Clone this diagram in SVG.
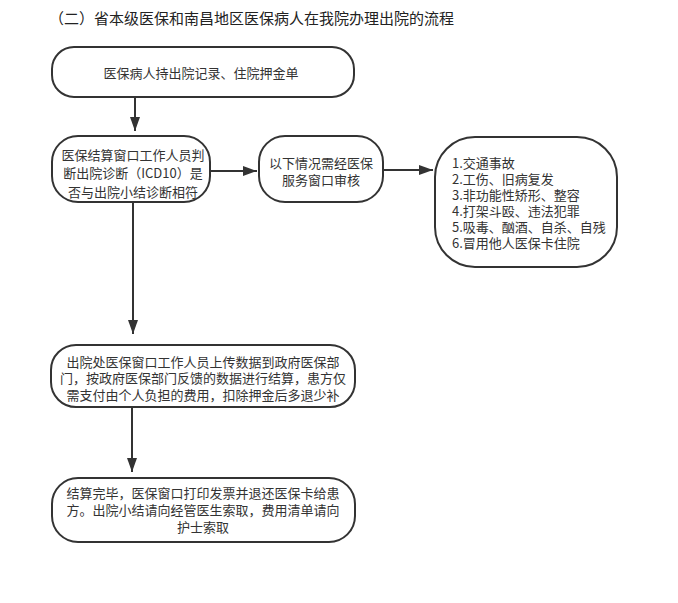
<svg xmlns="http://www.w3.org/2000/svg" width="678" height="603" viewBox="0 0 678 603">
<defs>
<style>
.box{fill:#fff;stroke:#333;stroke-width:2}
.t{font-family:"Noto Sans CJK SC","Noto Sans",sans-serif;font-size:13px;fill:#333}
.c{text-anchor:middle}
.ln{stroke:#333;stroke-width:2;fill:none}
</style>
<marker id="ah" markerWidth="14" markerHeight="10" viewBox="0 0 14 10" refX="14" refY="5" orient="auto" markerUnits="userSpaceOnUse">
<path d="M0,0 L14,5 L0,10 Z" fill="#333"/>
</marker>
</defs>
<rect width="678" height="603" fill="#fff"/>
<text x="49" y="24" font-family="'Noto Sans CJK SC','Noto Sans',sans-serif" font-size="15" fill="#222">（二）省本级医保和南昌地区医保病人在我院办理出院的流程</text>
<g id="connectors">
<line class="ln" x1="135" y1="97" x2="135" y2="131" marker-end="url(#ah)"/>
<line class="ln" x1="210" y1="171" x2="257" y2="171" marker-end="url(#ah)"/>
<line class="ln" x1="383" y1="170" x2="433" y2="170" marker-end="url(#ah)"/>
<line class="ln" x1="133" y1="202" x2="133" y2="334" marker-end="url(#ah)"/>
<line class="ln" x1="132" y1="407" x2="132" y2="472" marker-end="url(#ah)"/>
</g>
<g id="n1">
<rect class="box" x="52" y="47" width="302" height="50" rx="22" ry="22"/>
<text class="t c" x="201" y="77.5">医保病人持出院记录、住院押金单</text>
</g>
<g id="n2">
<rect class="box" x="52" y="136" width="158" height="66" rx="26" ry="26"/>
<text class="t c" x="133" y="159.5">医保结算窗口工作人员判</text>
<text class="t c" x="133" y="177.5">断出院诊断（ICD10）是</text>
<text class="t c" x="133" y="196.5">否与出院小结诊断相符</text>
</g>
<g id="n3">
<rect class="box" x="259" y="136" width="124" height="66" rx="26" ry="26"/>
<text class="t c" x="321" y="167.5">以下情况需经医保</text>
<text class="t c" x="321" y="184.5">服务窗口审核</text>
</g>
<g id="n4">
<rect class="box" x="435" y="137" width="182" height="130" rx="40" ry="40"/>
<text class="t" x="452" y="167.5"><tspan x="452" y="167.5">1.交通事故</tspan><tspan x="452" y="183.5">2.工伤、旧病复发</tspan><tspan x="452" y="200">3.非功能性矫形、整容</tspan><tspan x="452" y="216">4.打架斗殴、违法犯罪</tspan><tspan x="452" y="232">5.吸毒、酗酒、自杀、自残</tspan><tspan x="452" y="248">6.冒用他人医保卡住院</tspan></text>
</g>
<g id="n5">
<rect class="box" x="51" y="345" width="304" height="62" rx="25" ry="25"/>
<text class="t c" x="203" y="366.5">出院处医保窗口工作人员上传数据到政府医保部</text>
<text class="t c" x="203" y="382.5">门，按政府医保部门反馈的数据进行结算，患方仅</text>
<text class="t c" x="203" y="399.5">需支付由个人负担的费用，扣除押金后多退少补</text>
</g>
<g id="n6">
<rect class="box" x="52" y="478" width="303" height="64" rx="26" ry="26"/>
<text class="t c" x="203" y="497.5">结算完毕，医保窗口打印发票并退还医保卡给患</text>
<text class="t c" x="203" y="514.5">方。出院小结请向经管医生索取，费用清单请向</text>
<text class="t c" x="203" y="531.5">护士索取</text>
</g>
</svg>
